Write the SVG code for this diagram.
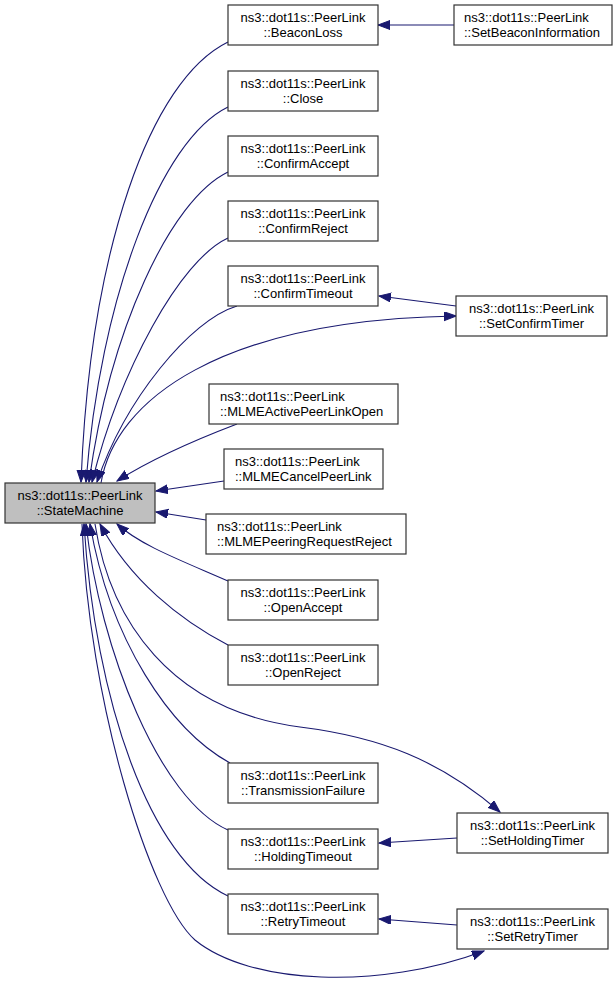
<svg xmlns="http://www.w3.org/2000/svg" width="616" height="987" viewBox="0 0 616 987">
<style>
.n rect{fill:#fff;stroke:#333;stroke-width:1.2}
.n.h rect{fill:#bfbfbf}
.n text{font-family:"Liberation Sans",Arial,sans-serif;font-size:13px;fill:#000}
.c{text-anchor:middle}
.e path{fill:none;stroke:#191970;stroke-width:1.1;marker-end:url(#a)}
</style>
<defs>
<marker id="a" markerUnits="userSpaceOnUse" markerWidth="13" markerHeight="10" refX="12" refY="4.5" orient="auto">
<path d="M0,0 L12,4.5 L0,9 z" fill="#191970" stroke="#191970" stroke-width="1"/>
</marker>
</defs>
<rect width="616" height="987" fill="#fff"/>
<g id="edges" class="e">
<path d="M228,42 C150,80 90,250 81,482"/>
<path d="M228,107 C160,140 100,300 86,482"/>
<path d="M228,172 C170,200 110,330 89,482"/>
<path d="M228,238 C180,260 120,370 92,482"/>
<path d="M237,306 C190,320 125,400 97,482"/>
<path d="M101,483 C115,400 220,320 456,316"/>
<path d="M456,306 L379,296"/>
<path d="M454,25 L378,25"/>
<path d="M237,424 C195,440 150,460 117,481"/>
<path d="M224,481 L156,491"/>
<path d="M206,520 L156,512"/>
<path d="M228,581 C180,560 140,545 117,524"/>
<path d="M228,645 C180,620 130,580 100,524"/>
<path d="M95,524 C110,620 170,710 300,727 C380,737 440,760 500,812"/>
<path d="M230,763 C170,730 110,640 90,524"/>
<path d="M228,830 C160,800 100,650 86,524"/>
<path d="M228,896 C150,860 95,700 84,524"/>
<path d="M82,524 C88,700 150,900 195,940 C250,985 380,990 484,951"/>
<path d="M457,838 L379,843"/>
<path d="M457,925 L379,919"/>
</g>
<g id="StateMachine" class="n h"><rect x="5" y="483" width="150" height="40"/><text class="c" x="80" y="499.5">ns3::dot11s::PeerLink</text><text class="c" x="80" y="514.5">::StateMachine</text></g>
<g id="BeaconLoss" class="n"><rect x="228" y="5" width="150" height="40"/><text class="c" x="303" y="21.5">ns3::dot11s::PeerLink</text><text class="c" x="303" y="36.5">::BeaconLoss</text></g>
<g id="SetBeaconInformation" class="n"><rect x="454" y="5" width="158" height="40"/><text x="464" y="21.5">ns3::dot11s::PeerLink</text><text x="464" y="36.5">::SetBeaconInformation</text></g>
<g id="Close" class="n"><rect x="228" y="71" width="150" height="40"/><text class="c" x="303" y="87.5">ns3::dot11s::PeerLink</text><text class="c" x="303" y="102.5">::Close</text></g>
<g id="ConfirmAccept" class="n"><rect x="228" y="136" width="150" height="40"/><text class="c" x="303" y="152.5">ns3::dot11s::PeerLink</text><text class="c" x="303" y="167.5">::ConfirmAccept</text></g>
<g id="ConfirmReject" class="n"><rect x="228" y="201" width="150" height="40"/><text class="c" x="303" y="217.5">ns3::dot11s::PeerLink</text><text class="c" x="303" y="232.5">::ConfirmReject</text></g>
<g id="ConfirmTimeout" class="n"><rect x="228" y="266" width="150" height="40"/><text class="c" x="303" y="282.5">ns3::dot11s::PeerLink</text><text class="c" x="303" y="297.5">::ConfirmTimeout</text></g>
<g id="SetConfirmTimer" class="n"><rect x="456" y="296" width="151" height="40"/><text class="c" x="531.5" y="312.5">ns3::dot11s::PeerLink</text><text class="c" x="531.5" y="327.5">::SetConfirmTimer</text></g>
<g id="MLMEActivePeerLinkOpen" class="n"><rect x="209" y="384" width="189" height="40"/><text x="220" y="400.5">ns3::dot11s::PeerLink</text><text x="220" y="415.5">::MLMEActivePeerLinkOpen</text></g>
<g id="MLMECancelPeerLink" class="n"><rect x="224" y="449" width="159" height="40"/><text x="235" y="465.5">ns3::dot11s::PeerLink</text><text x="235" y="480.5">::MLMECancelPeerLink</text></g>
<g id="MLMEPeeringRequestReject" class="n"><rect x="206" y="514" width="200" height="40"/><text x="217" y="530.5">ns3::dot11s::PeerLink</text><text x="217" y="545.5">::MLMEPeeringRequestReject</text></g>
<g id="OpenAccept" class="n"><rect x="228" y="580" width="150" height="40"/><text class="c" x="303" y="596.5">ns3::dot11s::PeerLink</text><text class="c" x="303" y="611.5">::OpenAccept</text></g>
<g id="OpenReject" class="n"><rect x="228" y="645" width="150" height="40"/><text class="c" x="303" y="661.5">ns3::dot11s::PeerLink</text><text class="c" x="303" y="676.5">::OpenReject</text></g>
<g id="TransmissionFailure" class="n"><rect x="228" y="763" width="150" height="40"/><text class="c" x="303" y="779.5">ns3::dot11s::PeerLink</text><text class="c" x="303" y="794.5">::TransmissionFailure</text></g>
<g id="HoldingTimeout" class="n"><rect x="228" y="829" width="150" height="40"/><text class="c" x="303" y="845.5">ns3::dot11s::PeerLink</text><text class="c" x="303" y="860.5">::HoldingTimeout</text></g>
<g id="RetryTimeout" class="n"><rect x="228" y="894" width="150" height="40"/><text class="c" x="303" y="910.5">ns3::dot11s::PeerLink</text><text class="c" x="303" y="925.5">::RetryTimeout</text></g>
<g id="SetHoldingTimer" class="n"><rect x="457" y="813" width="151" height="40"/><text class="c" x="532.5" y="829.5">ns3::dot11s::PeerLink</text><text class="c" x="532.5" y="844.5">::SetHoldingTimer</text></g>
<g id="SetRetryTimer" class="n"><rect x="457" y="909" width="151" height="40"/><text class="c" x="532.5" y="925.5">ns3::dot11s::PeerLink</text><text class="c" x="532.5" y="940.5">::SetRetryTimer</text></g>
</svg>
